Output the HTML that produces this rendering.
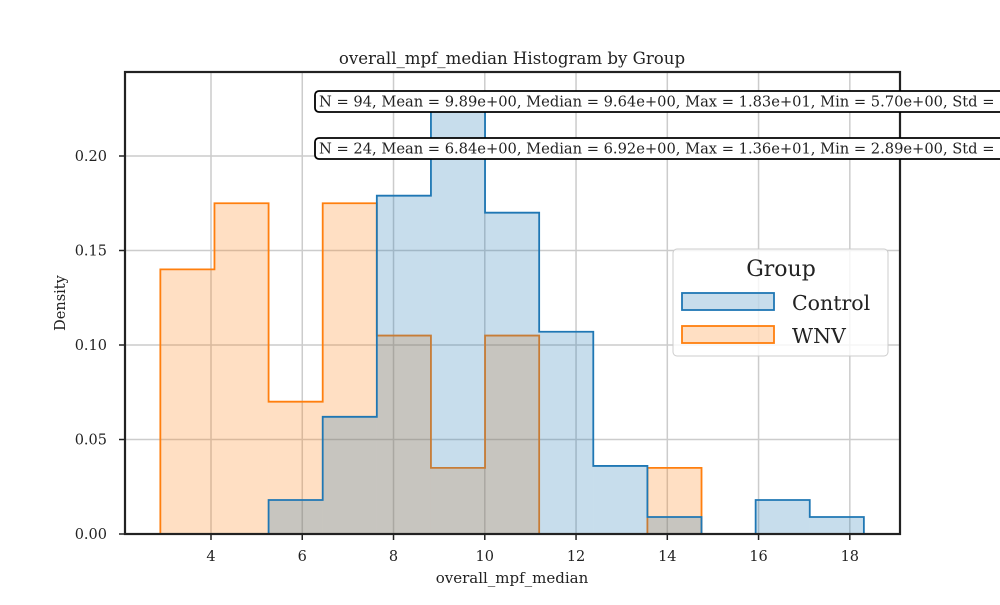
<!DOCTYPE html>
<html><head><meta charset="utf-8"><style>
body{margin:0;background:#fff;overflow:hidden;}
svg text{font-family:"DejaVu Serif","Liberation Serif",serif;fill:#222;}
</style></head><body>
<svg width="1000" height="600" viewBox="0 0 1000 600">
<g id="grid"></g>
<g id="bars"></g>
<g id="axes"></g>
<text x="512" y="64" font-size="16.6" text-anchor="middle">overall_mpf_median Histogram by Group</text>
<text x="512" y="583" font-size="15" text-anchor="middle">overall_mpf_median</text>
<text x="65" y="303" font-size="14.5" text-anchor="middle" transform="rotate(-90 65 303)">Density</text>
<g>
<rect x="315" y="91" width="760" height="21" rx="4" fill="#fff" stroke="#000" stroke-width="1.8"/>
<text x="319" y="106.5" font-size="14.65">N = 94, Mean = 9.89e+00, Median = 9.64e+00, Max = 1.83e+01, Min = 5.70e+00, Std = 2.05e+00</text>
</g>
<g>
<rect x="315" y="138" width="760" height="21" rx="4" fill="#fff" stroke="#000" stroke-width="1.8"/>
<text x="319" y="153.5" font-size="14.65">N = 24, Mean = 6.84e+00, Median = 6.92e+00, Max = 1.36e+01, Min = 2.89e+00, Std = 2.74e+00</text>
</g>
<g>
<rect x="673" y="249" width="215" height="107" rx="4" fill="#fff" fill-opacity="0.8" stroke="#ccc"/>
<text x="781" y="276" font-size="22" text-anchor="middle">Group</text>
<g>
<rect x="682" y="293" width="92" height="17" fill="#1f77b4" fill-opacity="0.25" stroke="#1f77b4" stroke-width="1.8"/>
<text x="792" y="310" font-size="20.5">Control</text></g>
<g>
<rect x="682" y="326" width="92" height="17" fill="#ff7f0e" fill-opacity="0.25" stroke="#ff7f0e" stroke-width="1.8"/>
<text x="792" y="343" font-size="20.5">WNV</text></g>
</g>
</svg>
<script>
const binStart = 2.89;
const binWidth = 1.186;
const controlDensity = [0,0,0.018,0.062,0.179,0.233,0.170,0.107,0.036,0.009,0,0.018,0.009];
const wnvDensity = [0.140,0.175,0.070,0.175,0.105,0.035,0.105,0,0,0.035,0,0,0];
const xTicks = [4,6,8,10,12,14,16,18];
const yTicks = [0,0.05,0.10,0.15,0.20];
const yTickLabels = ["0.00","0.05","0.10","0.15","0.20"];

const L=125,R=900,T=72,B=534;
const xs=v=>211+(v-4)*45.63;
const ys=v=>534-v*1890;
const NS="http://www.w3.org/2000/svg";
function mk(tag,attrs,parent){const e=document.createElementNS(NS,tag);for(const k in attrs)e.setAttribute(k,attrs[k]);parent.appendChild(e);return e;}
const grid=document.getElementById('grid'),bars=document.getElementById('bars'),axes=document.getElementById('axes');
xTicks.forEach(t=>{const l=mk('line',{x1:xs(t),x2:xs(t),y1:T,y2:B,stroke:'#cccccc','stroke-width':1.5},grid);
});
yTicks.forEach(t=>{const l=mk('line',{x1:L,x2:R,y1:ys(t),y2:ys(t),stroke:'#cccccc','stroke-width':1.5},grid);
});
function series(vals,color,name){
  const g=mk('g',{},bars);
  
  
  let first=vals.findIndex(v=>v>0),last=vals.length-1-[...vals].reverse().findIndex(v=>v>0);
  vals.forEach((v,i)=>{if(v<=0)return;const x0=xs(binStart+i*binWidth),x1=xs(binStart+(i+1)*binWidth);
    const r=mk('rect',{x:x0,y:ys(v),width:x1-x0,height:ys(0)-ys(v),fill:color,'fill-opacity':0.25},g);
    
    });
  let d='M'+xs(binStart+first*binWidth)+','+ys(0);
  for(let i=first;i<=last;i++){const x0=xs(binStart+i*binWidth),x1=xs(binStart+(i+1)*binWidth);d+=' L'+x0+','+ys(vals[i])+' L'+x1+','+ys(vals[i]);}
  d+=' L'+xs(binStart+(last+1)*binWidth)+','+ys(0);
  const p=mk('path',{d:d,fill:'none',stroke:color,'stroke-width':1.8},g);
  
  
}
series(wnvDensity,'#ff7f0e','wnv');
series(controlDensity,'#1f77b4','control');
const fr=mk('rect',{x:L,y:T,width:R-L,height:B-T,fill:'none',stroke:'#222','stroke-width':2.2},axes);


xTicks.forEach(t=>{mk('line',{x1:xs(t),x2:xs(t),y1:B,y2:B+6,stroke:'#222','stroke-width':1.5},axes);
const tx=mk('text',{x:xs(t),y:B+27,'font-size':14.5,'text-anchor':'middle'},axes);tx.textContent=t;
});
yTicks.forEach((t,i)=>{mk('line',{x1:L-6,x2:L,y1:ys(t),y2:ys(t),stroke:'#222','stroke-width':1.5},axes);
const tx=mk('text',{x:L-18,y:ys(t)+5,'font-size':14.5,'text-anchor':'end'},axes);tx.textContent=yTickLabels[i];
});
</script>
</body></html>
